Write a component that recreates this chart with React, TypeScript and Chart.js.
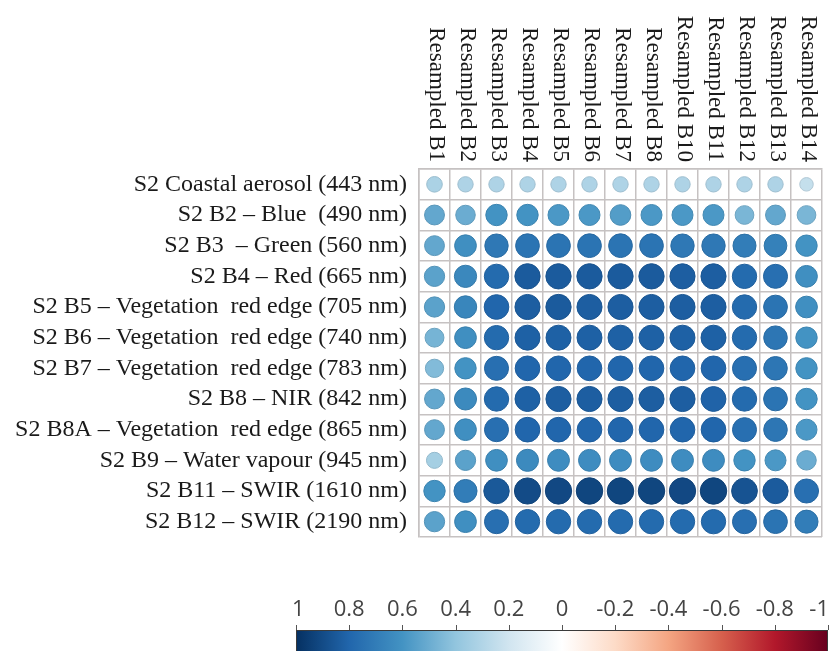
import { useEffect, useRef } from 'react';
import { Chart, registerables } from 'chart.js';

Chart.register(...registerables);

const colLabels = [
  'Resampled B1', 'Resampled B2', 'Resampled B3', 'Resampled B4', 'Resampled B5',
  'Resampled B6', 'Resampled B7', 'Resampled B8', 'Resampled B10', 'Resampled B11',
  'Resampled B12', 'Resampled B13', 'Resampled B14',
];

const rowLabels = [
  'S2 Coastal aerosol (443 nm)',
  'S2 B2 – Blue  (490 nm)',
  'S2 B3  – Green (560 nm)',
  'S2 B4 – Red (665 nm)',
  'S2 B5 – Vegetation  red edge (705 nm)',
  'S2 B6 – Vegetation  red edge (740 nm)',
  'S2 B7 – Vegetation  red edge (783 nm)',
  'S2 B8 – NIR (842 nm)',
  'S2 B8A – Vegetation  red edge (865 nm)',
  'S2 B9 – Water vapour (945 nm)',
  'S2 B11 – SWIR (1610 nm)',
  'S2 B12 – SWIR (2190 nm)',
];

// correlation values, one array per Sentinel-2 band (columns follow colLabels)
const coastal = [0.32, 0.31, 0.31, 0.31, 0.31, 0.31, 0.31, 0.31, 0.31, 0.31, 0.31, 0.31, 0.24];
const blue = [0.52, 0.5, 0.6, 0.6, 0.58, 0.58, 0.56, 0.58, 0.58, 0.58, 0.46, 0.52, 0.46];
const green = [0.52, 0.62, 0.72, 0.74, 0.74, 0.74, 0.74, 0.74, 0.72, 0.72, 0.7, 0.68, 0.6];
const red = [0.54, 0.65, 0.78, 0.84, 0.84, 0.84, 0.84, 0.84, 0.83, 0.83, 0.78, 0.76, 0.62];
const redEdge705 = [0.54, 0.66, 0.8, 0.83, 0.84, 0.83, 0.83, 0.83, 0.83, 0.83, 0.78, 0.74, 0.62];
const redEdge740 = [0.47, 0.62, 0.78, 0.82, 0.82, 0.82, 0.82, 0.82, 0.82, 0.82, 0.78, 0.73, 0.6];
const redEdge783 = [0.44, 0.6, 0.76, 0.8, 0.8, 0.8, 0.8, 0.8, 0.8, 0.8, 0.76, 0.73, 0.6];
const nir = [0.52, 0.64, 0.78, 0.82, 0.83, 0.83, 0.83, 0.83, 0.83, 0.81, 0.78, 0.74, 0.6];
const redEdge865 = [0.52, 0.62, 0.76, 0.8, 0.8, 0.8, 0.8, 0.8, 0.8, 0.8, 0.76, 0.73, 0.58];
const waterVapour = [0.34, 0.54, 0.62, 0.64, 0.63, 0.63, 0.63, 0.63, 0.63, 0.63, 0.6, 0.58, 0.5];
const swir1610 = [0.6, 0.7, 0.85, 0.9, 0.91, 0.92, 0.92, 0.92, 0.91, 0.92, 0.87, 0.84, 0.76];
const swir2190 = [0.54, 0.62, 0.76, 0.78, 0.78, 0.78, 0.78, 0.78, 0.78, 0.78, 0.76, 0.74, 0.7];

const matrix = [
  coastal, blue, green, red, redEdge705, redEdge740, redEdge783,
  nir, redEdge865, waterVapour, swir1610, swir2190,
];

const colorbarTicks = [1, 0.8, 0.6, 0.4, 0.2, 0, -0.2, -0.4, -0.6, -0.8, -1];
const colorStops = [
  '#053061', '#2166AC', '#4393C3', '#92C5DE', '#D1E5F0', '#FFFFFF',
  '#FDDBC7', '#F4A582', '#D6604D', '#B2182B', '#67001F',
];

function hexToRgb(h: string) {
  return [parseInt(h.slice(1, 3), 16), parseInt(h.slice(3, 5), 16), parseInt(h.slice(5, 7), 16)];
}

function mixColor(v: number, darken: number) {
  const t = ((1 - v) / 2) * (colorStops.length - 1);
  const i = Math.max(0, Math.min(colorStops.length - 2, Math.floor(t)));
  const f = t - i;
  const a = hexToRgb(colorStops[i]);
  const b = hexToRgb(colorStops[i + 1]);
  const c = a.map((x, k) => Math.round((x + (b[k] - x) * f) * darken));
  return `rgb(${c[0]},${c[1]},${c[2]})`;
}

const colorFor = (v: number) => mixColor(v, 1);
const edgeFor = (v: number) => mixColor(v, 0.9);

const gridColor = '#c6c2c2';

const overlay = {
  id: 'overlay',
  afterDraw(chart: any) {
    const ctx = chart.ctx as CanvasRenderingContext2D;
    const xs = chart.scales.x;
    const ca = chart.chartArea;
    // rotated column labels
    ctx.save();
    ctx.fillStyle = '#1a1a1a';
    ctx.font = '23px "Liberation Serif"';
    ctx.textAlign = 'right';
    ctx.textBaseline = 'middle';
    colLabels.forEach((lab, i) => {
      const x = xs.getPixelForValue(i);
      ctx.save();
      ctx.translate(x + 2, ca.top - 7);
      ctx.rotate(Math.PI / 2);
      ctx.fillText(lab, 0, 0);
      ctx.restore();
    });
    ctx.restore();

    // colour bar
    const left = 296;
    const right = 828;
    const top = 630;
    const bottom = 651;
    const grad = ctx.createLinearGradient(left, 0, right, 0);
    colorStops.forEach((c, i) => grad.addColorStop(i / (colorStops.length - 1), c));
    ctx.save();
    ctx.fillStyle = grad;
    ctx.fillRect(left, top, right - left, bottom - top);
    ctx.strokeStyle = '#3a3a3a';
    ctx.lineWidth = 1;
    ctx.beginPath();
    ctx.moveTo(left, top + 0.5);
    ctx.lineTo(right, top + 0.5);
    ctx.moveTo(left + 0.5, top);
    ctx.lineTo(left + 0.5, bottom);
    ctx.moveTo(right - 0.5, top);
    ctx.lineTo(right - 0.5, bottom);
    ctx.stroke();
    ctx.strokeStyle = '#555';
    ctx.fillStyle = '#444';
    ctx.font = '22px "Open Sans"';
    ctx.textBaseline = 'alphabetic';
    colorbarTicks.forEach((v) => {
      const x = left + ((1 - v) / 2) * (right - left);
      const px = Math.round(x) + 0.5;
      ctx.beginPath();
      ctx.moveTo(px, top - 5);
      ctx.lineTo(px, top);
      ctx.stroke();
      const label = String(v);
      const w = ctx.measureText(label).width;
      let tx = x - w / 2;
      if (tx + w > 829) tx = 829 - w;
      if (tx < left - 4) tx = left - 4;
      ctx.fillText(label, tx, 616);
    });
    ctx.restore();
  },
};

export default function App() {
  const ref = useRef<HTMLCanvasElement>(null);
  useEffect(() => {
    const points: any[] = [];
    matrix.forEach((row, i) =>
      row.forEach((v, j) => points.push({ x: colLabels[j], y: rowLabels[i], v })),
    );
    const chart = new Chart(ref.current as HTMLCanvasElement, {
      type: 'scatter',
      data: {
        datasets: [
          {
            data: points,
            pointStyle: 'circle',
            pointRadius: (c: any) => {
              const ca = c.chart.chartArea;
              if (!ca || !c.raw) return 0;
              const cell = Math.min(ca.width / colLabels.length, ca.height / rowLabels.length);
              return 0.45 * cell * Math.sqrt(Math.abs(c.raw.v));
            },
            pointBackgroundColor: (c: any) => (c.raw ? colorFor(c.raw.v) : '#000'),
            pointBorderColor: (c: any) => (c.raw ? edgeFor(c.raw.v) : '#000'),
            pointBorderWidth: 1,
          } as any,
        ],
      },
      options: {
        animation: false,
        responsive: false,
        events: [],
        layout: { padding: { top: 0, left: 0, right: 9, bottom: 114 } },
        plugins: { legend: { display: false }, tooltip: { enabled: false } },
        scales: {
          x: {
            type: 'category',
            labels: colLabels,
            position: 'top',
            offset: true,
            grid: { offset: true, color: gridColor, lineWidth: 1.5, drawTicks: false },
            border: { color: gridColor, width: 1.5 },
            ticks: { display: false },
            afterFit: (s: any) => {
              s.height = 169;
            },
          },
          y: {
            type: 'category',
            labels: rowLabels,
            offset: true,
            grid: { offset: true, color: gridColor, lineWidth: 1.5, drawTicks: false },
            border: { color: gridColor, width: 1.5 },
            ticks: {
              autoSkip: false,
              padding: 12,
              color: '#1a1a1a',
              font: { family: 'Liberation Serif', size: 24 },
            },
            afterFit: (s: any) => {
              s.width = 419;
            },
          },
        } as any,
      },
      plugins: [overlay],
    });
    return () => chart.destroy();
  }, []);
  return (
    <div style={{ position: 'absolute', left: 0, top: 0, width: 831, height: 651, background: '#fff' }}>
      <canvas ref={ref} width={831} height={651} style={{ display: 'block' }} />
    </div>
  );
}
